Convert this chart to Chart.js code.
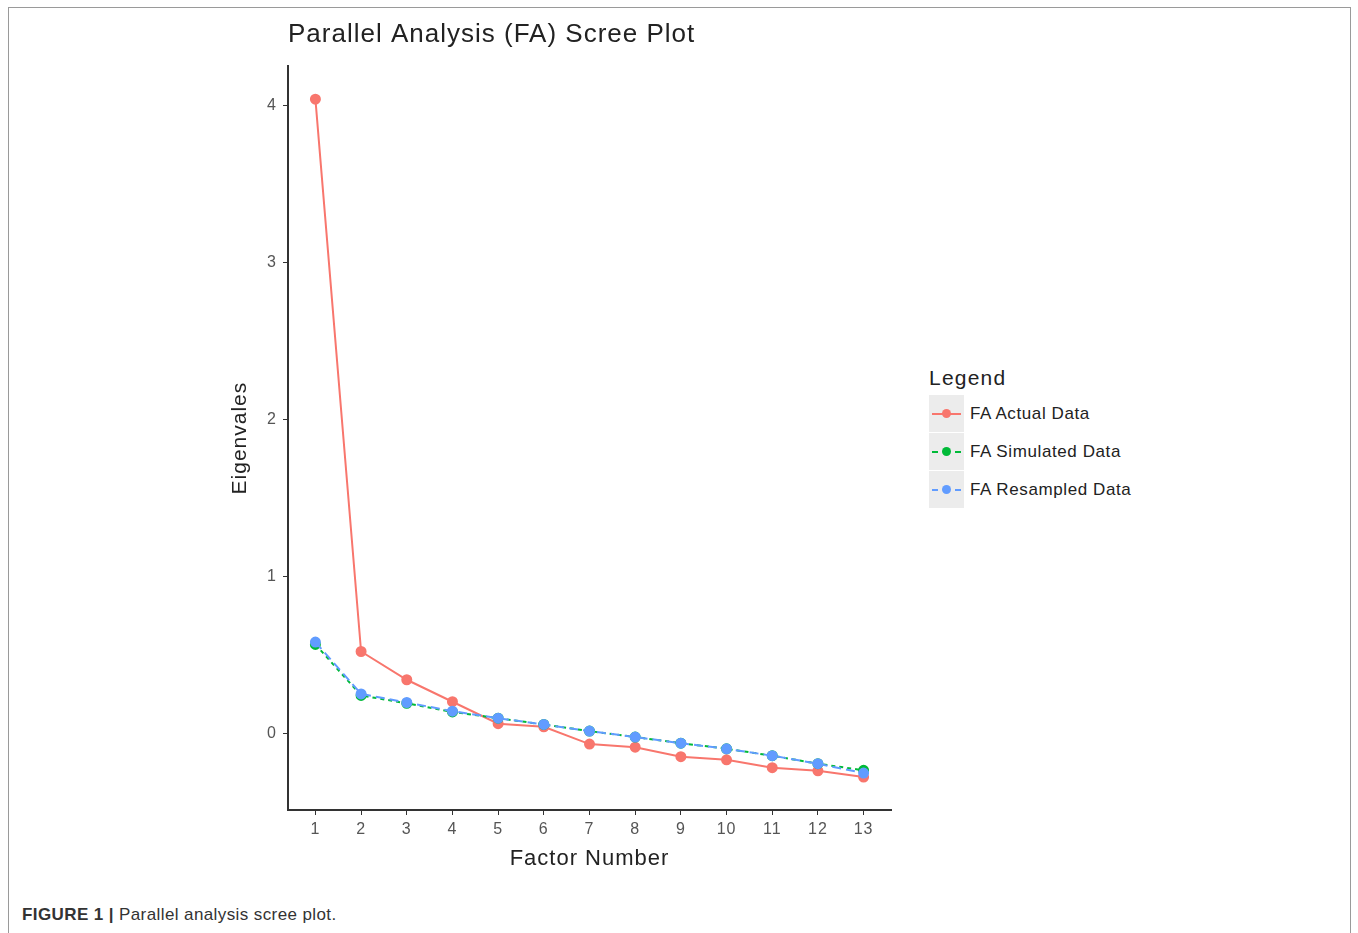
<!DOCTYPE html>
<html>
<head>
<meta charset="utf-8">
<style>
    body { margin: 0; background: #fff; font-family: "Liberation Sans", Arial, sans-serif; }
    .frame { position: absolute; left: 8px; top: 7px; width: 1341px; height: 940px; border: 1px solid #9a9a9a; }
    .chart-box { position: absolute; left: 200px; top: 12px; width: 710px; height: 868px; }
    .legend { position: absolute; left: 929px; top: 365px; color: #222; }
    .legend h6 { margin: 0 0 4px 0; font-size: 21px; font-weight: normal; line-height: 26px; letter-spacing: 1.2px; }
    .legend-item { display: flex; align-items: center; height: 37px; margin-bottom: 1px; font-size: 17px; letter-spacing: 0.6px; }
    .key { position: relative; width: 35px; height: 37px; background: #ececec; margin-right: 6px; }
    .key .ln { position: absolute; left: 3px; right: 3px; top: 18px; height: 0; border-top: 2px solid; }
    .key .pt { position: absolute; left: 13px; top: 14px; width: 9px; height: 9px; border-radius: 50%; }
    .caption { position: absolute; left: 22px; top: 905px; font-size: 17px; color: #333; letter-spacing: 0.4px; }
</style>
</head>
<body>
<div class="frame"></div>
<div class="chart-box"><canvas id="screeChart"></canvas></div>

<div class="legend">
    <h6>Legend</h6>
    <div class="legend-item"><div class="key"><div class="ln" style="border-color:#F8766D"></div><div class="pt" style="background:#F8766D"></div></div>FA Actual Data</div>
    <div class="legend-item"><div class="key"><div class="ln" style="border-color:#00BA38;border-top-style:dashed"></div><div class="pt" style="background:#00BA38"></div></div>FA Simulated Data</div>
    <div class="legend-item"><div class="key"><div class="ln" style="border-color:#619CFF;border-top-style:dashed"></div><div class="pt" style="background:#619CFF"></div></div>FA Resampled Data</div>
</div>

<div class="caption"><b>FIGURE 1 |</b> Parallel analysis scree plot.</div>

<script src="https://cdn.jsdelivr.net/npm/chart.js"></script>
<script>
const factors = [1, 2, 3, 4, 5, 6, 7, 8, 9, 10, 11, 12, 13];
const actualData = [4.04, 0.52, 0.34, 0.20, 0.06, 0.04, -0.07, -0.09, -0.15, -0.17, -0.22, -0.24, -0.28];
const simulatedData = [0.565, 0.24, 0.19, 0.135, 0.095, 0.055, 0.013, -0.025, -0.064, -0.10, -0.144, -0.195, -0.237];
const resampledData = [0.58, 0.25, 0.195, 0.14, 0.095, 0.055, 0.013, -0.025, -0.064, -0.10, -0.144, -0.195, -0.255];
const yTicks = [0, 1, 2, 3, 4];

const toPoints = vals => vals.map((v, i) => ({ x: factors[i], y: v }));

// the reference text is set a little looser than Liberation Sans
const looseText = {
    id: 'looseText',
    beforeUpdate: chart => { chart.ctx.letterSpacing = '1px'; },
    beforeDraw: chart => { chart.ctx.letterSpacing = '1px'; }
};

new Chart(document.getElementById('screeChart'), {
    type: 'line',
    plugins: [looseText],
    data: {
        datasets: [{
            label: 'FA Actual Data',
            data: toPoints(actualData),
            borderColor: '#F8766D',
            backgroundColor: '#F8766D',
            borderWidth: 2,
            pointRadius: 4.5,
            order: 2
        }, {
            label: 'FA Simulated Data',
            data: toPoints(simulatedData),
            borderColor: '#00BA38',
            backgroundColor: '#00BA38',
            borderWidth: 2,
            borderDash: [4, 4],
            pointRadius: 4.5,
            order: 1
        }, {
            label: 'FA Resampled Data',
            data: toPoints(resampledData),
            borderColor: '#619CFF',
            backgroundColor: '#619CFF',
            borderWidth: 2,
            borderDash: [9, 5],
            pointRadius: 4.5,
            order: 0
        }]
    },
    options: {
        responsive: true,
        maintainAspectRatio: false,
        animation: false,
        layout: { padding: { left: 28, right: 19, top: 0, bottom: 0 } },
        plugins: {
            legend: { display: false },
            tooltip: { enabled: false },
            title: {
                display: true,
                text: 'Parallel Analysis (FA) Scree Plot',
                align: 'start',
                fullSize: false,
                color: '#222',
                font: { family: 'Liberation Sans', size: 26, weight: 'normal' },
                padding: { top: 7, bottom: 16 }
            }
        },
        scales: {
            x: {
                type: 'linear',
                min: 0.4,
                max: 13.6,
                afterBuildTicks: s => { s.ticks = factors.map(v => ({ value: v })); },
                afterFit: s => { s.height = 70; },
                border: { color: '#333', width: 2 },
                grid: { drawOnChartArea: false, drawTicks: true, tickLength: 5, color: '#333' },
                ticks: { color: '#555', font: { family: 'Liberation Sans', size: 16 }, padding: 5, maxRotation: 0 },
                title: {
                    display: true,
                    text: 'Factor Number',
                    color: '#222',
                    font: { family: 'Liberation Sans', size: 22 },
                    padding: { top: 0, bottom: 8 }
                }
            },
            y: {
                min: -0.49,
                max: 4.25,
                afterBuildTicks: s => { s.ticks = yTicks.map(v => ({ value: v })); },
                afterFit: s => { s.width = 60; },
                border: { color: '#333', width: 2 },
                grid: { drawOnChartArea: false, drawTicks: true, tickLength: 5, color: '#333' },
                ticks: { color: '#555', font: { family: 'Liberation Sans', size: 16 }, padding: 6 },
                title: {
                    display: true,
                    text: 'Eigenvales',
                    color: '#222',
                    font: { family: 'Liberation Sans', size: 21 },
                    padding: { top: 0, bottom: 0 }
                }
            }
        }
    }
});
</script>
</body>
</html>
